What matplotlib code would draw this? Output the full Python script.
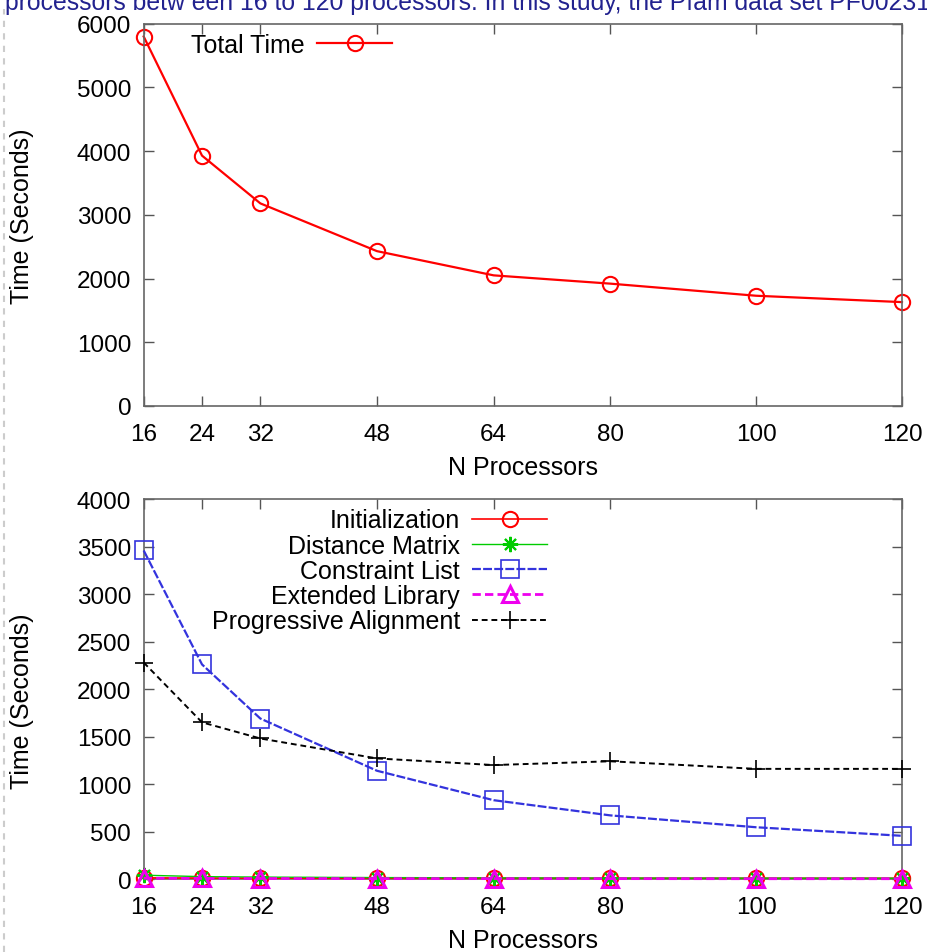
import matplotlib
matplotlib.use("Agg")
import matplotlib.pyplot as plt
from matplotlib.lines import Line2D

plt.rcParams['font.family'] = ['Liberation Sans', 'DejaVu Sans']

# data
procs = [16, 24, 32, 48, 64, 80, 100, 120]
total_time = [5800, 3930, 3180, 2430, 2050, 1920, 1730, 1630]

init_time = [12, 10, 9, 8, 8, 8, 8, 8]
dist_matrix = [40, 25, 20, 15, 12, 10, 9, 8]
constraint_list = [3460, 2260, 1690, 1140, 830, 670, 545, 455]
ext_library = [8, 6, 5, 4, 4, 4, 3, 3]
prog_align = [2280, 1650, 1480, 1270, 1200, 1240, 1160, 1160]

top_yticks = [0, 1000, 2000, 3000, 4000, 5000, 6000]
bot_yticks = [0, 500, 1000, 1500, 2000, 2500, 3000, 3500, 4000]

caption = "processors betw een 16 to 120 processors. In this study, the Pfam data set PF00231"

fig = plt.figure(figsize=(9.27, 9.53), dpi=100)
fig.patch.set_facecolor('white')

ax1 = fig.add_axes([0.155, 0.573, 0.818, 0.401])
ax2 = fig.add_axes([0.155, 0.0766, 0.818, 0.3985])


def style_axes(ax, yticks):
    ax.set_xlim(16, 120)
    ax.set_ylim(yticks[0], yticks[-1])
    ax.set_xticks(procs)
    ax.set_yticks(yticks)
    ax.tick_params(direction='in', length=7, width=1, color='#555555',
                   top=True, right=True, labelsize=17.5)
    ax.tick_params(axis='x', pad=12)
    ax.tick_params(axis='y', pad=9)
    for s in ax.spines.values():
        s.set_color('#666666')
        s.set_linewidth(1.2)
    ax.set_xlabel('N Processors', fontsize=18)
    ax.set_ylabel('Time (Seconds)', fontsize=18)
    ax.xaxis.set_label_coords(0.5, -0.16)
    ax.xaxis.label.set_va('center')


style_axes(ax1, top_yticks)
style_axes(ax2, bot_yticks)
ax1.yaxis.set_label_coords(-0.16, 0.5)
ax2.yaxis.set_label_coords(-0.16, 0.47)
ax1.yaxis.label.set_va('center')
ax2.yaxis.label.set_va('center')

ax1.plot(procs, total_time, color='red', lw=1.6, marker='o', ms=11,
         mfc='none', mew=1.5, label='Total Time', clip_on=False)
ax1.legend(loc='upper left', bbox_to_anchor=(0.033, 1.035), frameon=False,
           markerfirst=False, fontsize=18, handlelength=3.0, handletextpad=0.5)

ax2.plot(procs, init_time, color='red', lw=1.2, marker='o', ms=11,
         mfc='none', mew=1.5, label='Initialization', clip_on=False, zorder=3)
ax2.plot(procs, dist_matrix, color='#00cc00', lw=1.0, marker=(8, 2, 0), ms=11,
         mew=1.5, label='Distance Matrix', clip_on=False, zorder=3)
ax2.plot(procs, constraint_list, color='#3333dd', lw=1.6, ls=(0, (4, 1)),
         marker='s', ms=13, mfc='none', mew=1.2, label='Constraint List',
         clip_on=False, zorder=4)
ax2.plot(procs, ext_library, color='#ee00ee', lw=2.0, ls=(0, (3, 1.5)),
         marker='^', ms=11, mfc='none', mew=2.2, label='Extended Library',
         clip_on=False, zorder=3)
ax2.plot(procs, prog_align, color='black', lw=1.4, ls=(0, (3, 2)),
         marker='+', ms=13, mew=1.2, label='Progressive Alignment',
         clip_on=False, zorder=4)
ax2.legend(loc='upper right', bbox_to_anchor=(0.562, 1.035), frameon=False,
           markerfirst=False, fontsize=18, handlelength=3.0, handletextpad=0.5,
           labelspacing=0.05)

# caption cut off at the top of the screenshot
fig.text(0.005, 1 - 3 / 953, caption, color='#22228f', fontsize=17.8,
         ha='left', va='center')
# dashed page border on the left
fig.add_artist(Line2D([0.004, 0.004], [0, 0.99], transform=fig.transFigure,
                      color='#cccccc', lw=1.5, ls=(0, (3, 3))))

fig.savefig('out.png', dpi=100, facecolor='white')
